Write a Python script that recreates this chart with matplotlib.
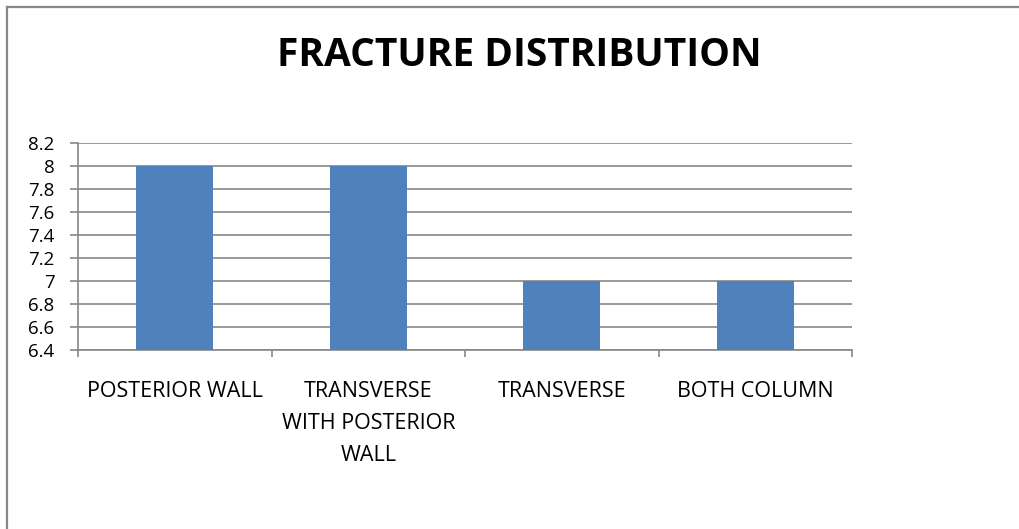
import numpy as np
import matplotlib.pyplot as plt
from matplotlib.lines import Line2D

categories = ['POSTERIOR WALL', 'TRANSVERSE\nWITH POSTERIOR\nWALL', 'TRANSVERSE', 'BOTH COLUMN']
values = [8, 8, 7, 7]
yticks = [6.4, 6.6, 6.8, 7, 7.2, 7.4, 7.6, 7.8, 8, 8.2]
ytick_labels = ['6.4', '6.6', '6.8', '7', '7.2', '7.4', '7.6', '7.8', '8', '8.2']

grey = '#878787'
plt.rcParams['font.family'] = ['Open Sans', 'DejaVu Sans']

fig = plt.figure(figsize=(10.19, 5.29), dpi=100)

# chart area frame (only top and left edges show in the crop)
fig.add_artist(Line2D([7/1019, 1], [1-7/529, 1-7/529], color=grey, lw=1.6))
fig.add_artist(Line2D([7/1019, 7/1019], [0, 1-7/529], color=grey, lw=1.6))

fig.text(0.51, 1-56/529, 'FRACTURE DISTRIBUTION', ha='center', va='center',
         fontsize=28, fontweight='bold')

ax = fig.add_axes([78/1019, 1-350/529, (852-78)/1019, (350-143)/529])
x = np.arange(len(categories))
ax.bar(x, [v - 6.4 for v in values], bottom=6.4, width=0.4, color='#4F81BD', zorder=3)

ax.set_xlim(-0.5, 3.5)
ax.set_ylim(6.4, 8.2)
ax.set_yticks(yticks)
ax.set_yticklabels(ytick_labels)
ax.set_xticks(x)
ax.set_xticklabels(categories, linespacing=1.68, va='top')
ax.set_xticks(np.arange(-0.5, 4, 1), minor=True)

ax.grid(axis='y', color=grey, lw=1.2, zorder=0)
for s in ['top', 'right']:
    ax.spines[s].set_visible(False)
for s in ['left', 'bottom']:
    ax.spines[s].set_color(grey)
    ax.spines[s].set_linewidth(1.2)

ax.tick_params(axis='y', length=6, width=1.2, color=grey, pad=11, labelsize=13.5)
ax.tick_params(axis='x', which='major', length=0, pad=22.5, labelsize=15.5)
ax.tick_params(axis='x', which='minor', length=5, width=1.2, color=grey)

fig.savefig('out.png', dpi=100)
